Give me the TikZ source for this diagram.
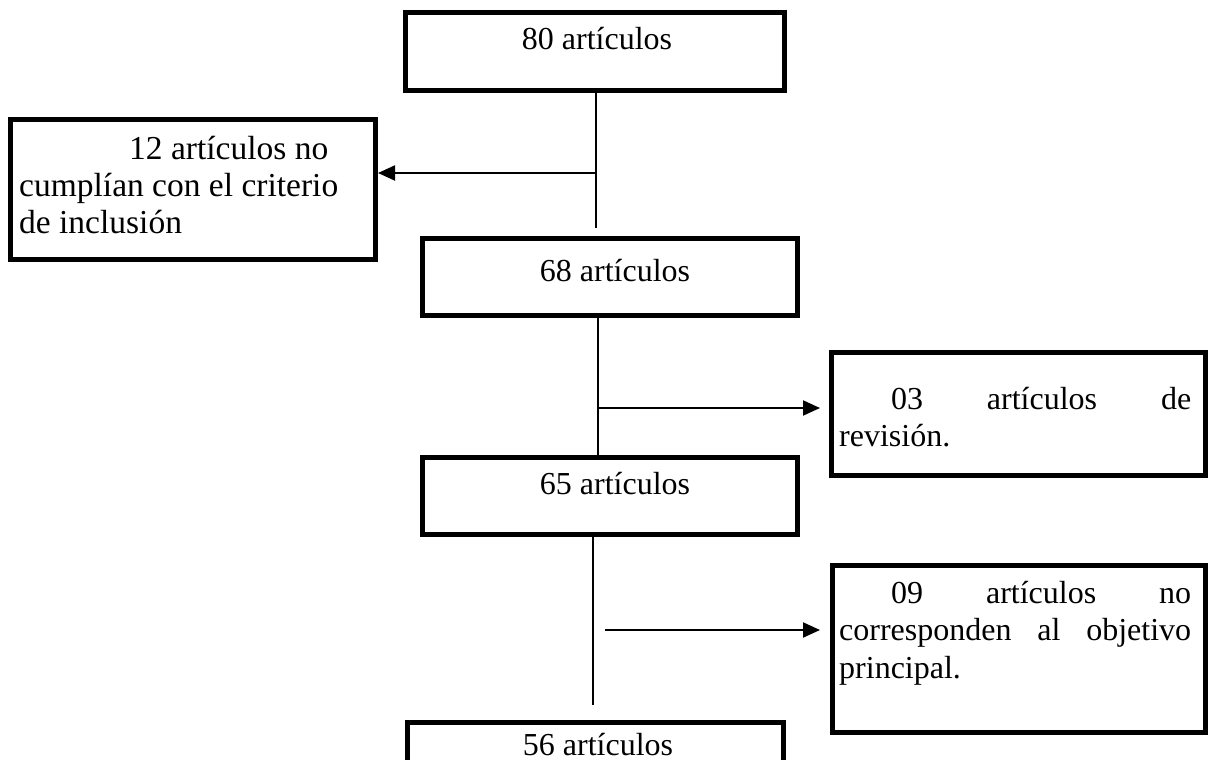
\documentclass[tikz,border=0pt]{standalone}
\usepackage{fontspec}
\setmainfont{Liberation Serif}
\usetikzlibrary{arrows.meta}
\begin{document}
\begin{tikzpicture}[x=1pt,y=-1pt,
  box/.style={draw, line width=5pt, inner sep=0pt},
  txt/.style={inner sep=0pt, font=\fontsize{32}{37.5}\selectfont},
  conn/.style={line width=2pt},
  arr/.style={conn, -{Triangle[length=17pt,width=15pt]}}]
\useasboundingbox (0,0) rectangle (1210,760);
\clip (0,0) rectangle (1210,760);
% boxes
\node[box, minimum width=379pt, minimum height=78pt] (b80) at (595,51.5) {};
\node[box, minimum width=365pt, minimum height=140pt] (b12) at (193,189.5) {};
\node[box, minimum width=375pt, minimum height=77pt] (b68) at (610,277) {};
\node[box, minimum width=374pt, minimum height=123pt] (b03) at (1018.5,414) {};
\node[box, minimum width=375pt, minimum height=77pt] (b65) at (610,496) {};
\node[box, minimum width=373pt, minimum height=167pt] (b09) at (1019,649) {};
\node[box, minimum width=376pt, minimum height=77pt] (b56) at (595.5,761) {};
% texts
\node[txt, anchor=base] (t80) at (597,50) {80 artículos};
\node[txt, anchor=base] (t68) at (615,281) {68 artículos};
\node[txt, anchor=base] (t65) at (615,494) {65 artículos};
\node[txt, anchor=base] (t56) at (598,755) {56 artículos};
\node[txt, font=\fontsize{33.5}{37}\selectfont, anchor=base west] (t12) at (19,159) {\parbox[t]{350pt}{\raggedright\hspace*{110pt}12 artículos no\\cumplían con el criterio\\de inclusión}};
\node[txt, anchor=base west] (t03) at (839,409) {\parbox[t]{352pt}{\tolerance=10000\hspace*{52pt}03 artículos de\linebreak revisión.}};
\node[txt, anchor=base west] (t09) at (839,603) {\parbox[t]{352pt}{\tolerance=10000\hspace*{52pt}09 artículos no\linebreak corresponden al objetivo\linebreak principal.}};
% connectors
\coordinate (j1) at (596,173);
\coordinate (e1) at (596,228);
\coordinate (k1) at (378,173);
\draw[conn] (b80.south -| j1) -- (e1);
\draw[arr] (j1) -- (k1);
\coordinate (j2) at (598,408);
\coordinate (k2) at (820,408);
\draw[conn] (b68.south -| j2) -- (b65.north -| j2);
\draw[arr] (j2) -- (k2);
\coordinate (s3) at (593,540);
\coordinate (e3) at (593,705);
\coordinate (j3) at (605,630);
\coordinate (k3) at (820,630);
\draw[conn] (b65.south -| s3) -- (e3);
\draw[arr] (j3) -- (k3);
\end{tikzpicture}
\end{document}
